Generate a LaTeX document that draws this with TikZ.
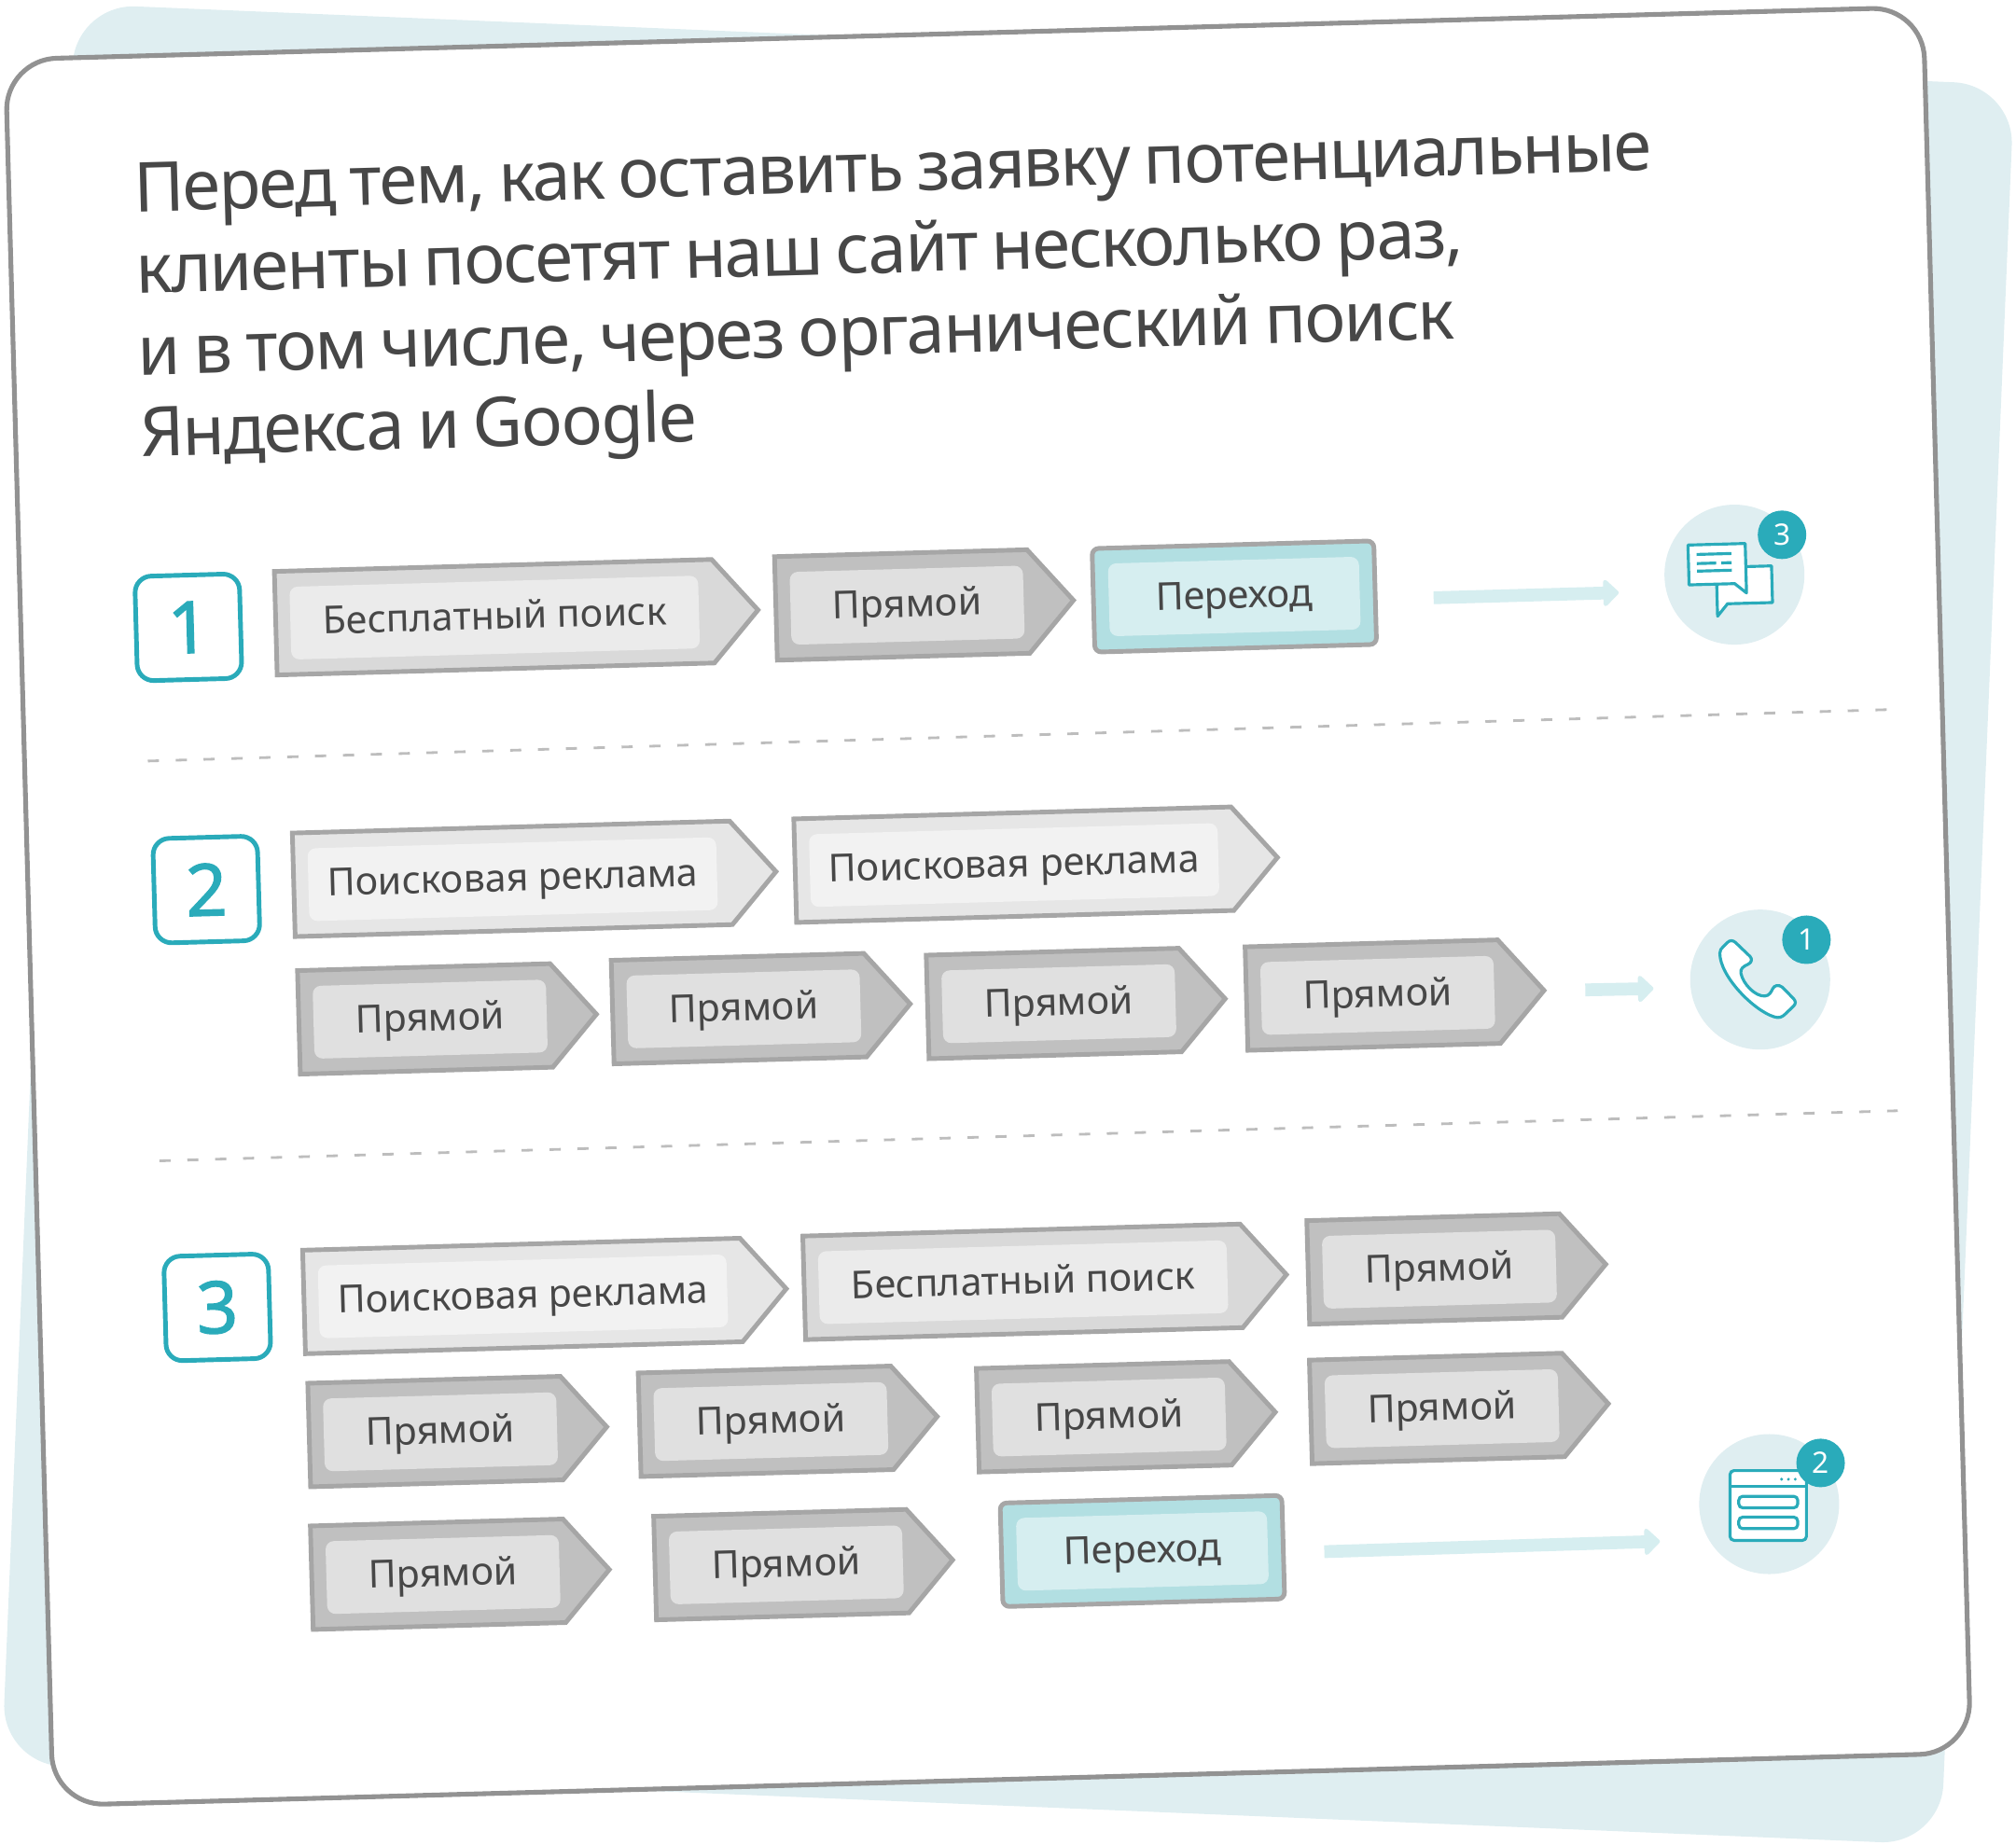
\documentclass[tikz,border=0pt]{standalone}
\usepackage{fontspec}
\setmainfont{Noto Sans}
\newfontfamily\titlefont[LetterSpace=-2.3,WordSpace=0.8]{Noto Sans}
\newfontfamily\numfont[FakeBold=1.6]{Noto Sans}
\usetikzlibrary{positioning,shapes.symbols,arrows.meta}
\begin{document}
\begin{tikzpicture}[x=0.013782cm,y=-0.013782cm]
            \definecolor{Bgcolor}{HTML}{DFEEF1}
            \definecolor{Cardline}{HTML}{929292}
            \definecolor{Teal}{HTML}{2AABBA}
            \definecolor{Ink}{HTML}{474747}
            \definecolor{Edge}{HTML}{A6A6A6}
            \definecolor{Flow}{HTML}{D6EEF0}
            \definecolor{Chevlight}{HTML}{D9D9D9}
            \definecolor{Chevpale}{HTML}{E6E6E6}
            \definecolor{Chevdark}{HTML}{C0C0C0}
            \definecolor{Jumpfill}{HTML}{B2DFE2}
            \definecolor{Sepcolor}{HTML}{BDBDBD}
            \definecolor{Freeinner}{HTML}{EBEBEB}
            \definecolor{Paidinner}{HTML}{F2F2F2}
            \definecolor{Directinner}{HTML}{E0E0E0}
            \def\tilt{1.57}
            \def\wideW{5.17cm}
            \def\shortW{3.19cm}
            \def\chevH{1.11cm}
            \tikzset{
                chev/.style={shape=signal, signal to=east, signal pointer angle=98, draw=Edge, line width=1.4pt, inner sep=0pt, outer sep=0pt, minimum height=\chevH, rotate=\tilt, anchor=west, yshift=0.01cm},
                chevfree/.style={chev, fill=Chevlight, minimum width=\wideW},
                chevpaid/.style={chev, fill=Chevpale, minimum width=\wideW},
                chevdirect/.style={chev, fill=Chevdark, minimum width=\shortW},
                jumpbox/.style={shape=rectangle, draw=Edge, line width=1.4pt, rounded corners=2pt, fill=Jumpfill, minimum width=3.02cm, minimum height=\chevH, inner sep=0pt, rotate=\tilt},
                inbox/.style={shape=rectangle, rounded corners=2.5pt, minimum height=0.78cm, inner sep=0pt, text=Ink, font=\fontsize{11.7}{13}\selectfont, text height=9.6pt, text depth=2.4pt, rotate=\tilt},
                numbox/.style={shape=rectangle, draw=Teal, line width=1.4pt, rounded corners=5pt, fill=white, minimum width=1.12cm, minimum height=1.12cm, text=Teal, font=\fontsize{22}{26}\numfont, rotate=\tilt},
                disc/.style={shape=circle, fill=Bgcolor, minimum size=1.5cm, inner sep=0pt},
                badge/.style={shape=circle, fill=Teal, text=white, minimum size=0.52cm, inner sep=0pt, font=\fontsize{9}{10}\selectfont},
                sepline/.style={draw=Sepcolor, line width=0.8pt, dash pattern=on 3.4pt off 5.1pt},
                flowline/.style={draw=Flow, line width=3.9pt, -{Triangle[length=5pt,width=9.4pt,round]}},
                iconline/.style={draw=Teal, line width=0.9pt, fill=white, line join=round},
                iconmark/.style={draw=Teal, line width=0.9pt}
            }
            \useasboundingbox (0,0) rectangle (1568,1435);
            \node[draw=none, fill=Bgcolor, shape=rectangle, rounded corners=0.65cm, minimum width=20.8cm, minimum height=18.88cm, rotate=-2.39] (bg) at (784,719) {};
            \node[draw=Cardline, line width=1.45pt, fill=white, shape=rectangle, rounded corners=0.55cm, minimum width=20.56cm, minimum height=18.72cm, rotate=\tilt] (card) at (768.5,705) {};

            \node[anchor=north west, rotate=\tilt, inner sep=0pt, align=left, text=Ink, font=\fontsize{21}{24.9}\titlefont] (title) at (103,126) {Перед тем, как оставить заявку потенциальные\\клиенты посетят наш сайт несколько раз,\\и в том числе, через органический поиск\\Яндекса и Google};

            % first visit chain
            \node[numbox] (n1) at (146.5,488) {1};
            \node[chevfree] (a1) at (214.5,485.5) {};
            \node[inbox, fill=Freeinner, minimum width=4.38cm, right=0.15cm of a1.west] (a1t) {Бесплатный поиск};
            \node[chevdirect] (a2) at (603.5,474) {};
            \node[inbox, fill=Directinner, minimum width=2.5cm, right=0.15cm of a2.west] (a2t) {Прямой};
            \node[jumpbox] (a3) at (960,464) {};
            \node[inbox, fill=Flow, minimum width=2.69cm] (a3t) at (a3) {Переход};
            \coordinate (a3from) at (1115,465);
            \coordinate (a3to) at (1259,461);
            \draw[flowline] (a3from) -- (a3to);
            \node[disc] (c1) at (1349,447) {};
            \begin{scope}[rotate around={\tilt:(c1)}]
                \draw[iconline] (1335,441) -- (1378,441) -- (1378,469.5) -- (1343,469.5) -- (1335,479) -- cycle;
                \draw[iconline] (1313.5,423) -- (1358,423) -- (1358,461.5) -- (1349,454) -- (1313.5,454) -- cycle;
                \draw[iconmark] (1320,430.5) -- (1347,430.5);
                \draw[iconmark] (1320,437.6) -- (1335,437.6);
                \draw[iconmark] (1339,437.6) -- (1347,437.6);
                \draw[iconmark] (1320,443.5) -- (1347,443.5);
            \end{scope}
            \node[badge] (b1) at (1386,416) {3};

            \coordinate (s1a) at (115,592);
            \coordinate (s1b) at (1468,552);
            \draw[sepline] (s1a) -- (s1b);

            % second visit chain
            \node[numbox] (n2) at (160.5,692) {2};
            \node[chevpaid] (b1a) at (228.5,689) {};
            \node[inbox, fill=Paidinner, minimum width=4.38cm, right=0.15cm of b1a.west] (b1at) {Поисковая реклама};
            \node[chevpaid] (b2a) at (618.5,678) {};
            \node[inbox, fill=Paidinner, minimum width=4.38cm, right=0.15cm of b2a.west] (b2at) {Поисковая реклама};
            \node[chevdirect] (c1a) at (232.5,796) {};
            \node[inbox, fill=Directinner, minimum width=2.5cm, right=0.15cm of c1a.west] (c1at) {Прямой};
            \node[chevdirect] (c2a) at (476.5,788) {};
            \node[inbox, fill=Directinner, minimum width=2.5cm, right=0.15cm of c2a.west] (c2at) {Прямой};
            \node[chevdirect] (c3a) at (721.5,784) {};
            \node[inbox, fill=Directinner, minimum width=2.5cm, right=0.15cm of c3a.west] (c3at) {Прямой};
            \node[chevdirect] (c4a) at (969.5,777.5) {};
            \node[inbox, fill=Directinner, minimum width=2.5cm, right=0.15cm of c4a.west] (c4at) {Прямой};
            \coordinate (c4from) at (1233,770);
            \coordinate (c4to) at (1286,769);
            \draw[flowline] (c4from) -- (c4to);
            \node[disc] (c2) at (1369,762) {};
            \begin{scope}[shift={(1369,762)}, x=0.00333cm, y=-0.00333cm]
                \draw[iconline] (-130,-85) .. controls (-130,-95) and (-125,-100) .. (-120,-105) -- (-105,-120) .. controls (-98,-127) and (-88,-127) .. (-80,-120) -- (-33,-75) .. controls (-25,-67) and (-27,-55) .. (-38,-50) .. controls (-55,-42) and (-65,-35) .. (-62,-20) .. controls (-55,15) and (-15,55) .. (15,53) .. controls (30,52) and (35,40) .. (40,30) .. controls (45,18) and (60,15) .. (72,25) -- (108,62) .. controls (115,70) and (115,78) .. (108,85) -- (82,110) .. controls (70,122) and (60,125) .. (45,120) .. controls (-20,100) and (-130,-10) .. (-130,-85) -- cycle;
            \end{scope}
            \node[badge] (b2) at (1405,731) {1};

            \coordinate (s2a) at (124,903);
            \coordinate (s2b) at (1476,864);
            \draw[sepline] (s2a) -- (s2b);

            % third visit chain
            \node[numbox] (n3) at (169,1017) {3};
            \node[chevpaid] (d1) at (236.5,1013.5) {};
            \node[inbox, fill=Paidinner, minimum width=4.38cm, right=0.15cm of d1.west] (d1t) {Поисковая реклама};
            \node[chevfree] (d2) at (625.5,1002.5) {};
            \node[inbox, fill=Freeinner, minimum width=4.38cm, right=0.15cm of d2.west] (d2t) {Бесплатный поиск};
            \node[chevdirect] (d3) at (1017.5,990.5) {};
            \node[inbox, fill=Directinner, minimum width=2.5cm, right=0.15cm of d3.west] (d3t) {Прямой};
            \node[chevdirect] (e1) at (240.5,1117) {};
            \node[inbox, fill=Directinner, minimum width=2.5cm, right=0.15cm of e1.west] (e1t) {Прямой};
            \node[chevdirect] (e2) at (497.5,1109) {};
            \node[inbox, fill=Directinner, minimum width=2.5cm, right=0.15cm of e2.west] (e2t) {Прямой};
            \node[chevdirect] (e3) at (760.5,1105.5) {};
            \node[inbox, fill=Directinner, minimum width=2.5cm, right=0.15cm of e3.west] (e3t) {Прямой};
            \node[chevdirect] (e4) at (1019.5,1099) {};
            \node[inbox, fill=Directinner, minimum width=2.5cm, right=0.15cm of e4.west] (e4t) {Прямой};
            \node[chevdirect] (f1) at (242.5,1228) {};
            \node[inbox, fill=Directinner, minimum width=2.5cm, right=0.15cm of f1.west] (f1t) {Прямой};
            \node[chevdirect] (f2) at (509.5,1220.5) {};
            \node[inbox, fill=Directinner, minimum width=2.5cm, right=0.15cm of f2.west] (f2t) {Прямой};
            \node[jumpbox] (f3) at (888.5,1206.5) {};
            \node[inbox, fill=Flow, minimum width=2.69cm] (f3t) at (f3) {Переход};
            \coordinate (f3from) at (1030,1207);
            \coordinate (f3to) at (1291,1199);
            \draw[flowline] (f3from) -- (f3to);
            \node[disc] (c3) at (1376,1170) {};
            \begin{scope}[shift={(1376,1170)}, x=0.00333cm, y=-0.00333cm]
                \draw[iconline, rounded corners=1.2pt] (-126,-108) rectangle (120,117);
                \draw[iconmark] (-126,-56) -- (120,-56);
                \fill[Teal] (40,-80) circle (5) (62,-80) circle (5) (84,-80) circle (5);
                \draw[iconmark, rounded corners=1.2pt] (-98,-25) rectangle (92,12);
                \draw[iconmark, rounded corners=1.2pt] (-98,42) rectangle (92,79);
            \end{scope}
            \node[badge] (b3) at (1416,1138) {2};
        \end{tikzpicture}
\end{document}
